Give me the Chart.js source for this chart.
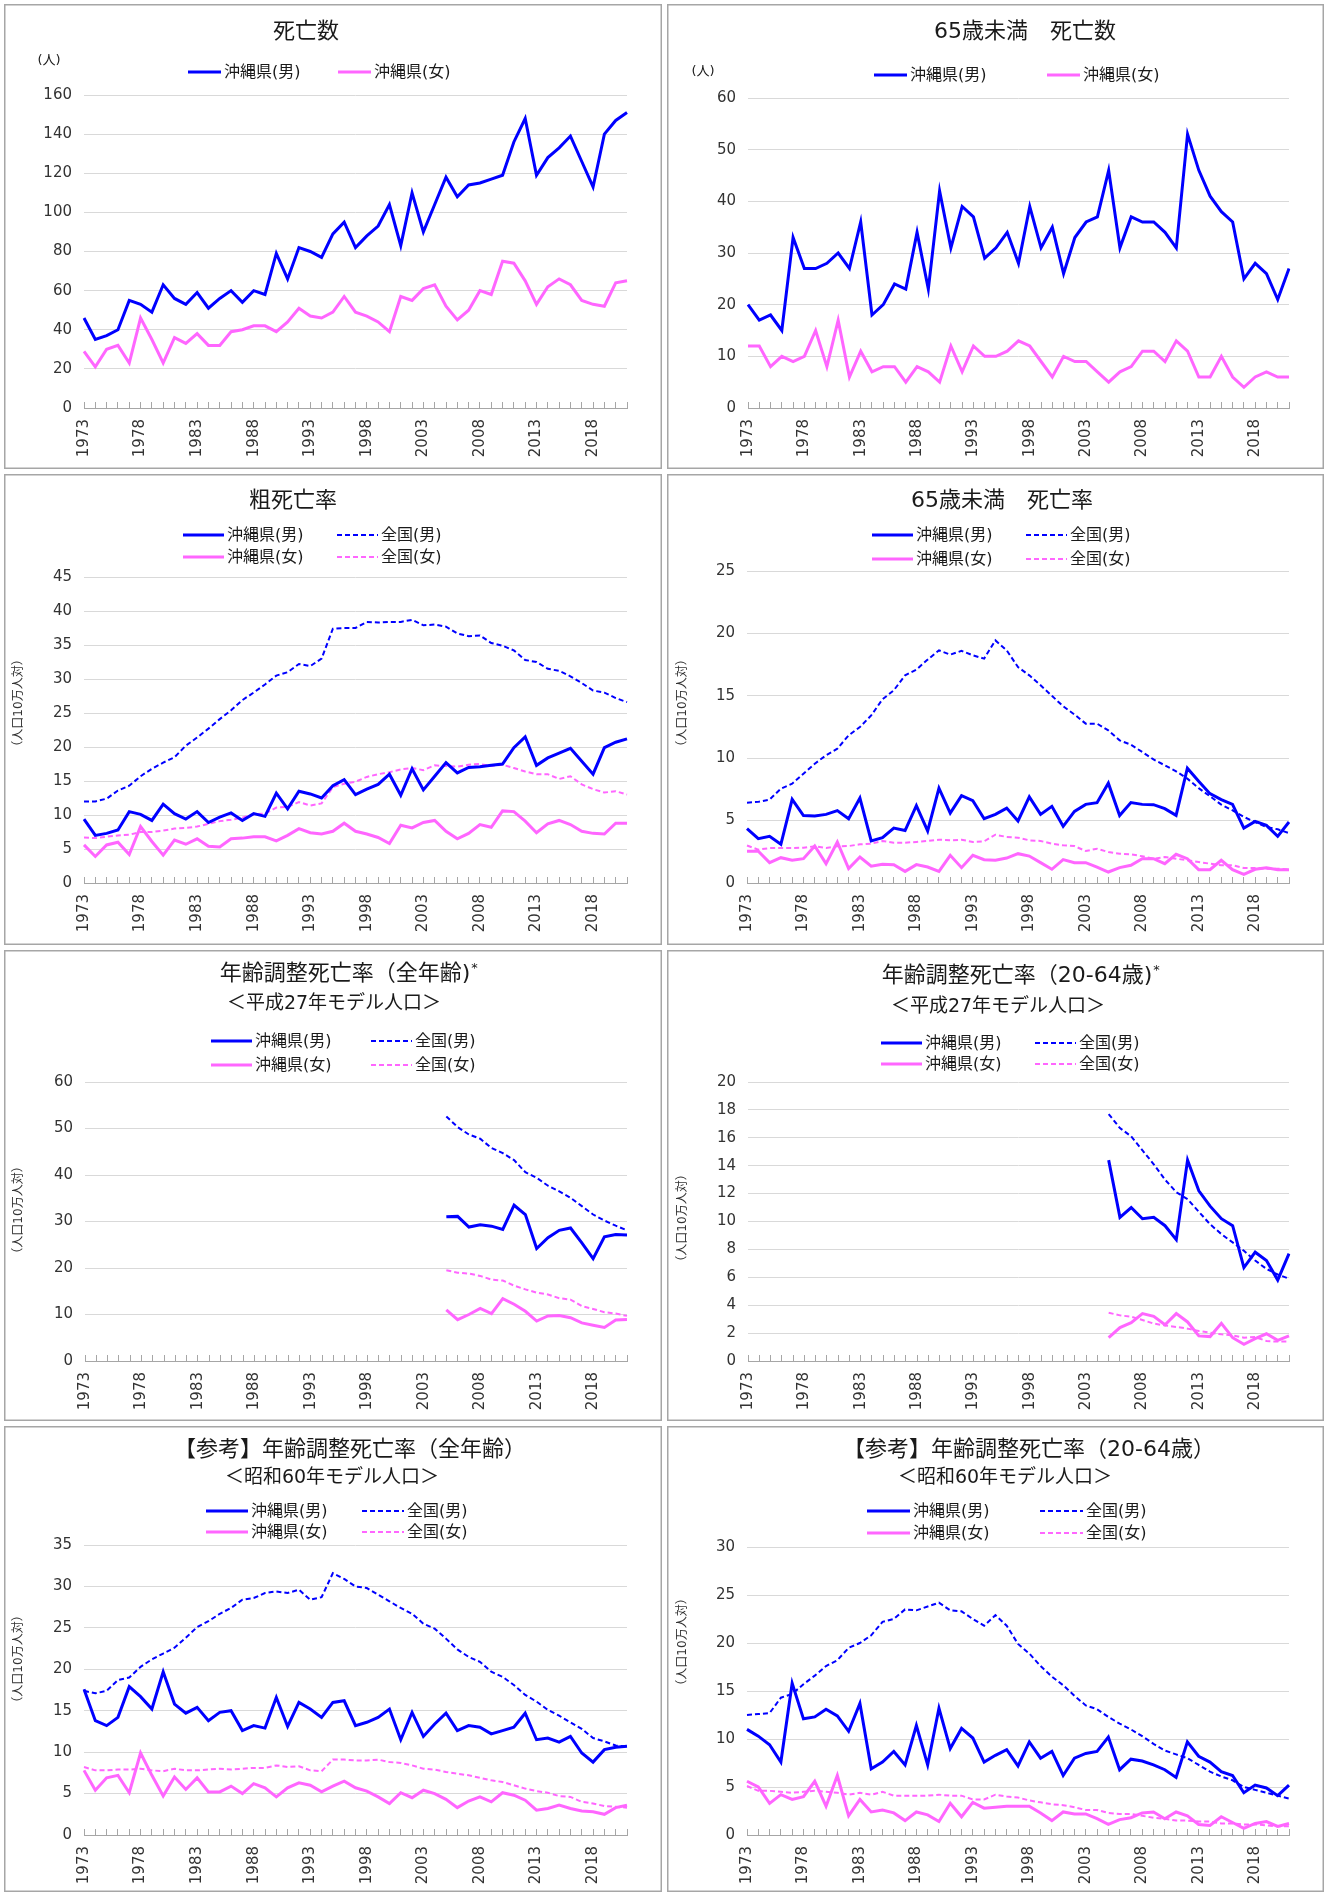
<!DOCTYPE html>
<html lang="ja">
<head>
<meta charset="UTF-8">
<title>沖縄県 死亡数・死亡率の推移</title>
<script src="https://cdn.jsdelivr.net/npm/chart.js@4"></script>
<style>
  body { margin: 0; background: #fff; }
  #page { position: relative; width: 1328px; height: 1892px; overflow: hidden; }
  #page canvas { position: absolute; display: block; }
</style>
</head>
<body>
<div id="page"></div>
<script>
// 年（横軸）
const years = [1973, 1974, 1975, 1976, 1977, 1978, 1979, 1980, 1981, 1982,
  1983, 1984, 1985, 1986, 1987, 1988, 1989, 1990, 1991, 1992,
  1993, 1994, 1995, 1996, 1997, 1998, 1999, 2000, 2001, 2002,
  2003, 2004, 2005, 2006, 2007, 2008, 2009, 2010, 2011, 2012,
  2013, 2014, 2015, 2016, 2017, 2018, 2019, 2020, 2021];
const yearTicks = [1973, 1978, 1983, 1988, 1993, 1998, 2003, 2008, 2013, 2018];
const modelStart = 2005; // 平成27年モデル人口の系列はここから

// 死亡数
const deathsMale = [46, 35, 37, 40, 55, 53, 49, 63, 56, 53,
  59, 51, 56, 60, 54, 60, 58, 79, 66, 82,
  80, 77, 89, 95, 82, 88, 93, 104, 83, 110,
  90, 104, 118, 108, 114, 115, 117, 119, 136, 148,
  119, 128, 133, 139, 126, 113, 140, 147, 151];
const deathsFemale = [29, 21, 30, 32, 23, 46, 35, 23, 36, 33,
  38, 32, 32, 39, 40, 42, 42, 39, 44, 51,
  47, 46, 49, 57, 49, 47, 44, 39, 57, 55,
  61, 63, 52, 45, 50, 60, 58, 75, 74, 65,
  53, 62, 66, 63, 55, 53, 52, 64, 65];

// 65歳未満 死亡数
const u65DeathsMale = [20, 17, 18, 15, 33, 27, 27, 28, 30, 27,
  36, 18, 20, 24, 23, 34, 23, 42, 31, 39,
  37, 29, 31, 34, 28, 39, 31, 35, 26, 33,
  36, 37, 46, 31, 37, 36, 36, 34, 31, 53,
  46, 41, 38, 36, 25, 28, 26, 21, 27];
const u65DeathsFemale = [12, 12, 8, 10, 9, 10, 15, 8, 17, 6,
  11, 7, 8, 8, 5, 8, 7, 5, 12, 7,
  12, 10, 10, 11, 13, 12, 9, 6, 10, 9,
  9, 7, 5, 7, 8, 11, 11, 9, 13, 11,
  6, 6, 10, 6, 4, 6, 7, 6, 6];

// 粗死亡率
const crudeOkiMale = [9.4, 7.0, 7.3, 7.8, 10.5, 10.1, 9.2, 11.6, 10.2, 9.4,
  10.5, 8.9, 9.7, 10.3, 9.2, 10.2, 9.8, 13.2, 10.9, 13.5,
  13.1, 12.5, 14.3, 15.2, 13.0, 13.8, 14.5, 16.0, 12.9, 16.8,
  13.7, 15.7, 17.7, 16.2, 17.0, 17.1, 17.3, 17.5, 19.9, 21.5,
  17.3, 18.4, 19.1, 19.8, 17.9, 16.0, 19.9, 20.7, 21.2];
const crudeNatMale = [12.0, 12.0, 12.4, 13.6, 14.3, 15.7, 16.8, 17.7, 18.5, 20.2,
  21.4, 22.7, 24.1, 25.4, 26.9, 28.0, 29.2, 30.5, 31.0, 32.2,
  31.9, 33.0, 37.4, 37.5, 37.5, 38.4, 38.3, 38.4, 38.4, 38.7,
  37.9, 38.0, 37.7, 36.7, 36.3, 36.4, 35.3, 34.9, 34.2, 32.8,
  32.5, 31.5, 31.2, 30.4, 29.4, 28.3, 28.0, 27.2, 26.6];
const crudeOkiFemale = [5.6, 3.9, 5.6, 6.0, 4.2, 8.3, 6.1, 4.1, 6.3, 5.7,
  6.5, 5.4, 5.3, 6.5, 6.6, 6.8, 6.8, 6.2, 7.0, 8.0,
  7.4, 7.2, 7.6, 8.8, 7.6, 7.2, 6.7, 5.8, 8.5, 8.1,
  8.9, 9.2, 7.6, 6.5, 7.3, 8.6, 8.2, 10.6, 10.5, 9.1,
  7.4, 8.7, 9.2, 8.6, 7.6, 7.3, 7.2, 8.8, 8.8];
const crudeNatFemale = [6.7, 6.6, 6.8, 7.0, 7.1, 7.5, 7.5, 7.7, 8.0, 8.1,
  8.3, 8.7, 9.1, 9.3, 9.6, 10.1, 10.2, 11.1, 11.2, 11.9,
  11.4, 11.7, 14.1, 14.6, 14.9, 15.6, 16.0, 16.3, 16.7, 16.9,
  16.6, 17.3, 17.2, 17.1, 17.4, 17.5, 17.2, 17.4, 16.9, 16.4,
  16.0, 16.0, 15.3, 15.7, 14.5, 13.8, 13.3, 13.5, 13.0];

// 65歳未満 死亡率
const u65RateOkiMale = [4.35, 3.55, 3.74, 3.1, 6.7, 5.4, 5.37, 5.5, 5.8, 5.15,
  6.8, 3.37, 3.63, 4.4, 4.2, 6.2, 4.17, 7.6, 5.6, 7.0,
  6.6, 5.15, 5.5, 6.0, 4.97, 6.9, 5.5, 6.14, 4.54, 5.74,
  6.3, 6.44, 8.0, 5.4, 6.44, 6.3, 6.28, 5.96, 5.42, 9.2,
  8.15, 7.16, 6.68, 6.3, 4.4, 4.94, 4.62, 3.74, 4.89];
const u65RateNatMale = [6.44, 6.5, 6.68, 7.56, 7.96, 8.76, 9.56, 10.23, 10.76, 11.83,
  12.5, 13.43, 14.72, 15.44, 16.64, 17.1, 17.9, 18.64, 18.3, 18.6,
  18.24, 17.98, 19.44, 18.64, 17.3, 16.64, 15.84, 15.0, 14.16, 13.5,
  12.77, 12.77, 12.23, 11.43, 11.08, 10.5, 9.9, 9.43, 8.95, 8.36,
  7.6, 6.95, 6.28, 5.82, 5.29, 4.89, 4.49, 4.3, 4.0];
const u65RateOkiFemale = [2.54, 2.54, 1.63, 2.03, 1.82, 1.95, 2.96, 1.55, 3.29, 1.15,
  2.08, 1.34, 1.5, 1.47, 0.93, 1.47, 1.28, 0.93, 2.22, 1.23,
  2.22, 1.87, 1.82, 2.0, 2.35, 2.16, 1.63, 1.1, 1.87, 1.63,
  1.63, 1.28, 0.88, 1.23, 1.42, 1.95, 1.95, 1.55, 2.3, 1.95,
  1.07, 1.07, 1.82, 1.07, 0.69, 1.1, 1.23, 1.07, 1.07];
const u65RateNatFemale = [3.0, 2.67, 2.8, 2.8, 2.8, 2.83, 2.94, 2.8, 2.94, 2.96,
  3.1, 3.15, 3.37, 3.23, 3.23, 3.29, 3.37, 3.47, 3.42, 3.47,
  3.29, 3.34, 3.87, 3.69, 3.63, 3.42, 3.37, 3.15, 3.02, 2.96,
  2.56, 2.75, 2.48, 2.35, 2.3, 2.14, 1.95, 2.08, 1.95, 1.82,
  1.68, 1.55, 1.42, 1.42, 1.2, 1.2, 1.15, 1.15, 1.07];

// 年齢調整死亡率（平成27年モデル人口）2005年〜
const h27AllOkiMale = [31.0, 31.1, 28.8, 29.3, 29.0, 28.3, 33.5, 31.5, 24.2, 26.5, 28.1, 28.6, 25.4, 22.0, 26.7, 27.2, 27.1];
const h27AllNatMale = [52.6, 50.3, 48.7, 47.8, 45.8, 44.7, 43.2, 40.6, 39.4, 37.7, 36.5, 35.1, 33.3, 31.5, 30.2, 29.1, 28.1];
const h27AllOkiFemale = [11.0, 8.9, 10.0, 11.3, 10.2, 13.4, 12.2, 10.7, 8.6, 9.7, 9.8, 9.3, 8.2, 7.7, 7.2, 8.8, 8.9];
const h27AllNatFemale = [19.5, 19.0, 18.8, 18.3, 17.5, 17.3, 16.2, 15.4, 14.7, 14.3, 13.5, 13.2, 11.8, 11.2, 10.5, 10.2, 9.7];
const h27WorkOkiMale = [14.4, 10.3, 11.0, 10.2, 10.3, 9.7, 8.7, 14.4, 12.2, 11.1, 10.2, 9.7, 6.7, 7.8, 7.2, 5.8, 7.7];
const h27WorkNatMale = [17.7, 16.7, 16.1, 15.1, 14.1, 13.0, 12.1, 11.6, 10.7, 9.8, 9.1, 8.5, 7.9, 7.2, 6.6, 6.2, 5.9];
const h27WorkOkiFemale = [1.67, 2.4, 2.75, 3.4, 3.2, 2.6, 3.4, 2.8, 1.8, 1.75, 2.7, 1.67, 1.2, 1.6, 1.95, 1.48, 1.8];
const h27WorkNatFemale = [3.46, 3.27, 3.18, 2.94, 2.68, 2.55, 2.44, 2.32, 2.15, 2.03, 1.91, 1.84, 1.67, 1.72, 1.43, 1.39, 1.39];

// 【参考】年齢調整死亡率（昭和60年モデル人口）
const s60AllOkiMale = [17.6, 13.8, 13.2, 14.2, 17.9, 16.7, 15.2, 19.7, 15.8, 14.7,
  15.4, 13.8, 14.8, 15.0, 12.6, 13.2, 12.9, 16.6, 13.1, 16.0,
  15.2, 14.2, 16.0, 16.2, 13.2, 13.6, 14.2, 15.2, 11.5, 14.8,
  11.9, 13.4, 14.7, 12.6, 13.2, 13.0, 12.2, 12.6, 13.0, 14.7,
  11.5, 11.7, 11.2, 11.9, 9.9, 8.8, 10.3, 10.6, 10.7];
const s60AllNatMale = [17.4, 17.1, 17.4, 18.7, 19.0, 20.3, 21.2, 21.9, 22.6, 23.8,
  25.1, 25.8, 26.7, 27.4, 28.4, 28.6, 29.2, 29.4, 29.2, 29.6,
  28.4, 28.7, 31.6, 30.9, 30.0, 29.8, 29.0, 28.2, 27.4, 26.7,
  25.5, 24.9, 23.7, 22.4, 21.5, 20.9, 19.7, 19.1, 18.1, 16.9,
  16.1, 15.1, 14.4, 13.6, 12.8, 11.7, 11.3, 10.8, 10.7];
const s60AllOkiFemale = [7.8, 5.4, 6.9, 7.2, 5.1, 9.9, 7.2, 4.7, 7.0, 5.5,
  6.9, 5.2, 5.2, 5.9, 5.0, 6.2, 5.7, 4.6, 5.7, 6.3,
  6.0, 5.2, 5.9, 6.5, 5.7, 5.3, 4.6, 3.8, 5.1, 4.5,
  5.4, 5.0, 4.3, 3.3, 4.1, 4.6, 4.0, 5.1, 4.8, 4.2,
  3.0, 3.2, 3.6, 3.2, 2.9, 2.8, 2.5, 3.3, 3.6];
const s60AllNatFemale = [8.2, 7.8, 7.8, 7.9, 7.9, 8.0, 7.8, 7.7, 8.0, 7.8,
  7.8, 7.9, 8.0, 7.9, 8.0, 8.1, 8.1, 8.4, 8.2, 8.3,
  7.8, 7.7, 9.1, 9.1, 9.0, 9.0, 9.1, 8.8, 8.7, 8.4,
  8.0, 7.9, 7.6, 7.4, 7.2, 6.9, 6.6, 6.4, 6.0, 5.6,
  5.3, 5.1, 4.7, 4.6, 4.0, 3.8, 3.5, 3.4, 3.3];
const s60WorkOkiMale = [11.0, 10.3, 9.4, 7.6, 15.8, 12.1, 12.3, 13.1, 12.4, 10.8,
  13.7, 6.9, 7.6, 8.7, 7.3, 11.4, 7.3, 13.2, 9.0, 11.1,
  10.1, 7.6, 8.3, 8.9, 7.2, 9.7, 8.0, 8.7, 6.2, 8.0,
  8.5, 8.7, 10.2, 6.8, 7.9, 7.7, 7.3, 6.8, 6.0, 9.7,
  8.2, 7.6, 6.6, 6.2, 4.4, 5.2, 4.9, 4.1, 5.2];
const s60WorkNatMale = [12.5, 12.6, 12.7, 14.3, 14.7, 15.7, 16.6, 17.6, 18.2, 19.5,
  20.0, 20.8, 22.2, 22.5, 23.5, 23.4, 23.8, 24.2, 23.4, 23.3,
  22.5, 21.8, 22.9, 21.8, 19.9, 18.9, 17.6, 16.5, 15.6, 14.5,
  13.5, 13.1, 12.3, 11.6, 11.0, 10.3, 9.5, 8.8, 8.4, 8.0,
  7.3, 6.6, 6.1, 5.7, 5.0, 4.7, 4.4, 4.1, 3.8];
const s60WorkOkiFemale = [5.6, 5.0, 3.3, 4.2, 3.7, 4.0, 5.6, 3.0, 6.2, 2.0,
  3.7, 2.4, 2.6, 2.3, 1.5, 2.4, 2.1, 1.4, 3.3, 1.9,
  3.4, 2.8, 2.9, 3.0, 3.0, 3.0, 2.3, 1.5, 2.4, 2.2,
  2.2, 1.7, 1.1, 1.6, 1.8, 2.3, 2.4, 1.7, 2.4, 2.0,
  1.1, 1.0, 1.9, 1.3, 0.7, 1.2, 1.4, 0.9, 1.2];
const s60WorkNatFemale = [5.1, 4.6, 4.6, 4.5, 4.4, 4.5, 4.6, 4.5, 4.4, 4.2,
  4.4, 4.2, 4.5, 4.1, 4.1, 4.1, 4.1, 4.2, 4.1, 4.1,
  3.7, 3.7, 4.2, 4.0, 3.9, 3.6, 3.4, 3.2, 3.1, 2.9,
  2.6, 2.6, 2.3, 2.2, 2.2, 2.0, 1.8, 1.7, 1.5, 1.5,
  1.4, 1.4, 1.2, 1.2, 1.1, 1.1, 1.0, 0.9, 0.9];

const FONT = '"DejaVu Sans", "Noto Sans CJK JP", sans-serif';
const BLUE = '#0000ff';
const PINK = '#ff66ff';
const TEXT = '#1a1a1a';
const TICK = '#333333';

// 2005年より前は空欄
function fromModelYear(arr) {
  const start = years.indexOf(modelStart);
  return years.map((y, i) => (i < start ? null : arr[i - start]));
}

function lineSet(label, data, color, national) {
  return {
    label: label,
    data: data,
    borderColor: color,
    backgroundColor: color,
    borderWidth: national ? 2 : 3,
    borderDash: national ? [5, 3] : [],
    pointRadius: 0,
    tension: 0,
    spanGaps: false
  };
}

function fourSeries(okiM, natM, okiF, natF) {
  return [
    lineSet('沖縄県(男)', okiM, BLUE, false),
    lineSet('全国(男)', natM, BLUE, true),
    lineSet('沖縄県(女)', okiF, PINK, false),
    lineSet('全国(女)', natF, PINK, true)
  ];
}

// area: [left, right, top, bottom] of the plot inside the panel
const panels = [
  { left: 4, top: 4, w: 658, h: 465, area: [80, 641, 91, 404], yMax: 160, yStep: 20,
    title: '死亡数', titleX: 302, titleY: 28, unit: '(人)', unitX: 45, unitY: 57,
    series: [lineSet('沖縄県(男)', deathsMale, BLUE, false), lineSet('沖縄県(女)', deathsFemale, PINK, false)],
    legend: [[184, 68, 33], [334, 68, 33]] },
  { left: 667, top: 4, w: 657, h: 465, area: [81, 642, 94, 404], yMax: 60, yStep: 10,
    title: '65歳未満　死亡数', titleX: 358, titleY: 28, unit: '(人)', unitX: 36, unitY: 68,
    series: [lineSet('沖縄県(男)', u65DeathsMale, BLUE, false), lineSet('沖縄県(女)', u65DeathsFemale, PINK, false)],
    legend: [[207, 71, 33], [380, 71, 33]] },
  { left: 4, top: 474, w: 658, h: 471, area: [80, 640, 103, 409], yMax: 45, yStep: 5,
    title: '粗死亡率', titleX: 289, titleY: 27, vTitleX: 15, vTitleY: 229,
    series: fourSeries(crudeOkiMale, crudeNatMale, crudeOkiFemale, crudeNatFemale),
    legend: [[179, 61, 41], [333, 61, 41], [179, 83, 41], [333, 83, 41]] },
  { left: 667, top: 474, w: 657, h: 471, area: [80, 640, 97, 409], yMax: 25, yStep: 5,
    title: '65歳未満　死亡率', titleX: 335, titleY: 27, vTitleX: 16, vTitleY: 229,
    series: fourSeries(u65RateOkiMale, u65RateNatMale, u65RateOkiFemale, u65RateNatFemale),
    legend: [[205, 61, 41], [359, 61, 41], [205, 85, 41], [359, 85, 41]] },
  { left: 4, top: 950, w: 658, h: 471, area: [81, 640, 132, 411], yMax: 60, yStep: 10,
    title: '年齢調整死亡率（全年齢)', star: true, titleX: 345, titleY: 24,
    sub: '＜平成27年モデル人口＞', subX: 330, subY: 54, vTitleX: 15, vTitleY: 260,
    series: fourSeries(fromModelYear(h27AllOkiMale), fromModelYear(h27AllNatMale),
      fromModelYear(h27AllOkiFemale), fromModelYear(h27AllNatFemale)),
    legend: [[207, 91, 41], [367, 91, 41], [207, 115, 41], [367, 115, 41]] },
  { left: 667, top: 950, w: 657, h: 471, area: [81, 640, 132, 411], yMax: 20, yStep: 2,
    title: '年齢調整死亡率（20-64歳)', star: true, titleX: 354, titleY: 26,
    sub: '＜平成27年モデル人口＞', subX: 331, subY: 57, vTitleX: 16, vTitleY: 268,
    series: fourSeries(fromModelYear(h27WorkOkiMale), fromModelYear(h27WorkNatMale),
      fromModelYear(h27WorkOkiFemale), fromModelYear(h27WorkNatFemale)),
    legend: [[214, 93, 41], [368, 93, 41], [214, 114, 41], [368, 114, 41]] },
  { left: 4, top: 1426, w: 658, h: 466, area: [80, 635, 119, 409], yMax: 35, yStep: 5,
    title: '【参考】年齢調整死亡率（全年齢）', titleX: 346, titleY: 24,
    sub: '＜昭和60年モデル人口＞', subX: 328, subY: 52, vTitleX: 15, vTitleY: 233,
    series: fourSeries(s60AllOkiMale, s60AllNatMale, s60AllOkiFemale, s60AllNatFemale),
    legend: [[202, 85, 42], [358, 85, 42], [202, 106, 42], [358, 106, 42]] },
  { left: 667, top: 1426, w: 657, h: 466, area: [80, 640, 121, 409], yMax: 30, yStep: 5,
    title: '【参考】年齢調整死亡率（20-64歳）', titleX: 362, titleY: 24,
    sub: '＜昭和60年モデル人口＞', subX: 338, subY: 52, vTitleX: 16, vTitleY: 216,
    series: fourSeries(s60WorkOkiMale, s60WorkNatMale, s60WorkOkiFemale, s60WorkNatFemale),
    legend: [[200, 85, 43], [373, 85, 43], [200, 107, 43], [373, 107, 43]] }
];

// タイトル・凡例・枠線を描くプラグイン（パネルごと）
function panelDecor(p) {
  return {
    id: 'panelDecor',
    afterDraw(chart) {
      const ctx = chart.ctx;
      ctx.save();
      ctx.strokeStyle = '#a6a6a6';
      ctx.lineWidth = 1.5;
      ctx.strokeRect(0.75, 0.75, chart.width - 1.5, chart.height - 1.5);

      ctx.fillStyle = TEXT;
      ctx.textBaseline = 'middle';
      ctx.textAlign = 'center';
      ctx.font = '22px ' + FONT;
      if (p.star) {
        const w = ctx.measureText(p.title).width;
        ctx.fillText(p.title, p.titleX - 4, p.titleY);
        ctx.font = '13px ' + FONT;
        ctx.textAlign = 'left';
        ctx.fillText('*', p.titleX - 4 + w / 2 + 1, p.titleY - 5);
        ctx.textAlign = 'center';
      } else {
        ctx.fillText(p.title, p.titleX, p.titleY);
      }
      if (p.sub) {
        ctx.font = '19px ' + FONT;
        ctx.fillText(p.sub, p.subX, p.subY);
      }
      if (p.unit) {
        ctx.font = '13px ' + FONT;
        ctx.fillText(p.unit, p.unitX, p.unitY);
      }
      if (p.vTitleX) {
        ctx.save();
        ctx.translate(p.vTitleX, p.vTitleY);
        ctx.rotate(-Math.PI / 2);
        ctx.font = '12px ' + FONT;
        ctx.fillStyle = TICK;
        ctx.fillText('（人口10万人対）', 0, 0);
        ctx.restore();
      }

      // 凡例
      ctx.textAlign = 'left';
      ctx.font = '16px ' + FONT;
      p.legend.forEach((item, i) => {
        const ds = chart.data.datasets[i];
        const [x, y, len] = item;
        ctx.save();
        ctx.strokeStyle = ds.borderColor;
        ctx.lineWidth = ds.borderWidth;
        ctx.setLineDash(ds.borderDash);
        ctx.beginPath();
        ctx.moveTo(x, y);
        ctx.lineTo(x + len, y);
        ctx.stroke();
        ctx.restore();
        ctx.fillText(ds.label, x + len + 3, y + 1);
      });
      ctx.restore();
    }
  };
}

const page = document.getElementById('page');
panels.forEach(p => {
  const canvas = document.createElement('canvas');
  canvas.width = p.w;
  canvas.height = p.h;
  canvas.style.left = p.left + 'px';
  canvas.style.top = p.top + 'px';
  canvas.style.width = p.w + 'px';
  canvas.style.height = p.h + 'px';
  page.appendChild(canvas);

  new Chart(canvas, {
    type: 'line',
    data: { labels: years, datasets: p.series },
    options: {
      responsive: false,
      animation: false,
      devicePixelRatio: 1,
      layout: { padding: { left: 0, top: p.area[2], right: p.w - p.area[1], bottom: 0 } },
      plugins: { legend: { display: false }, tooltip: { enabled: false } },
      scales: {
        x: {
          offset: false,
          grid: { drawOnChartArea: false, drawTicks: true, tickLength: -6, color: '#a6a6a6' },
          border: { display: true, color: '#a6a6a6', width: 1 },
          ticks: {
            autoSkip: false, minRotation: 90, maxRotation: 90, padding: 17,
            color: TICK, font: { family: FONT, size: 15 },
            callback: (v, i) => (yearTicks.includes(years[i]) ? String(years[i]) : '')
          },
          afterFit: s => { s.height = p.h - p.area[3]; }
        },
        y: {
          min: 0, max: p.yMax,
          grid: { color: '#d9d9d9', drawTicks: false },
          border: { display: false },
          ticks: { stepSize: p.yStep, padding: 12, color: TICK, font: { family: FONT, size: 15 } },
          afterFit: s => { s.width = p.area[0]; }
        }
      }
    },
    plugins: [panelDecor(p)]
  });
});
</script>
</body>
</html>
